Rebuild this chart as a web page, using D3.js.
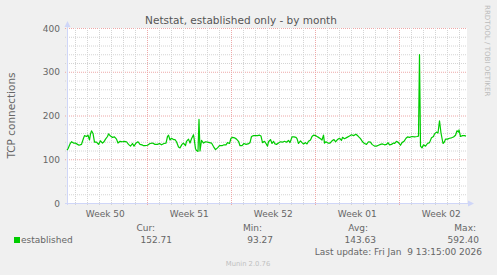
<!DOCTYPE html>
<html><head><meta charset="utf-8">
<script src="https://cdn.jsdelivr.net/npm/d3@7"></script>
<style>
html,body{margin:0;padding:0;background:#F0F0F0;}
svg{display:block;}
text{font-family:"DejaVu Sans",sans-serif;}
</style></head><body>
<svg id="c" width="497" height="275"></svg>
<script>
// ---- data ----
const title = "Netstat, established only - by month";
const yLabel = "TCP connections";
const seriesName = "established";
const yTicks = [0, 100, 200, 300, 400];
const weekLabelFormat = "Week %V";
// hours since start of graph window
const hours = [0,2,6,9,13,17,21,24,29,33,35,39,42,45,47,49,52,55,59,63,67,71,74,77,81,83,87,91,95,99,102,106,111,115,119,123,127,131,134,138,142,146,150,153,
156,161,166,171,176,181,185,189,194,198,201,203,206,209,213,216,219,223,226,230,233,237,239,243,246,249,253,255,257,259,262,264,266,269,273,277,281,285,289,293,297,301,305,
310,314,318,321,325,328,331,335,339,343,346,350,354,358,362,366,369,373,377,381,385,388,391,395,398,401,403,407,410,413,416,419,423,427,431,435,439,443,446,450,454,458,
460,463,467,470,473,477,480,483,487,490,493,497,500,503,507,510,513,515,518,522,526,530,534,537,541,545,549,551,555,560,565,569,573,578,582,587,591,595,599,603,607,610,
615,619,623,627,631,635,639,642,645,649,653,655,659,663,667,670,674,678,681,685,690,695,700,703,705,707,710,713,717,721,725,729,733,735,739,742,745,748,750,752,755,757,761,765,769,773,777,780,783,784,787,791,795,798];
const values = [121,124,135,140,137,137,134,132,134,148,154,152,155,144,158,165,159,139,139,134,142,137,140,146,152,158,153,150,151,146,137,141,140,141,140,134,130,136,130,137,140,134,133,131,
131,132,136,137,134,134,136,133,136,137,152,155,144,148,145,145,140,128,126,134,137,131,141,146,137,147,156,141,124,120,118,191,119,143,137,140,139,138,137,129,122,126,131,
131,133,133,138,136,148,150,149,146,141,131,131,136,134,135,138,152,154,154,154,155,153,138,141,136,130,140,145,136,141,135,134,137,140,139,141,139,143,138,151,151,150,
147,136,142,138,135,138,135,141,144,152,155,154,152,150,147,144,155,137,140,137,137,142,145,140,145,148,143,150,147,150,153,156,154,157,153,147,140,136,134,140,139,134,
130,130,132,134,135,133,134,138,133,134,137,136,141,138,132,138,141,148,151,150,152,151,152,153,339,130,126,133,130,136,138,149,152,158,162,160,188,160,148,136,140,146,146,148,149,151,155,165,162,167,152,154,154,153];
const legendHeaders = ["Cur:", "Min:", "Avg:", "Max:"];
const legendValues = ["152.71", "93.27", "143.63", "592.40"];
const lastUpdate = "Last update: Fri Jan  9 13:15:00 2026";
const watermark = "Munin 2.0.76";
const sideText = "RRDTOOL / TOBI OETIKER";
const windowEnd = Date.UTC(2026, 0, 9, 15, 20);
const windowSeconds = 2880000;

// ---- chart ----
const svg = d3.select("#c");
const W = 497, H = 275;
const L = 67, R = 467, T = 28, B = 203;
const start = new Date(windowEnd - windowSeconds * 1000);
const end = new Date(windowEnd);
const x = d3.scaleUtc().domain([start, end]).range([L, R]);
const y = d3.scaleLinear().domain([0, 400]).range([B, T]);

svg.append("rect").attr("width", W).attr("height", H).attr("fill", "#F0F0F0");
svg.append("rect").attr("x", L).attr("y", T).attr("width", R - L).attr("height", B - T).attr("fill", "#FFFFFF");

const minorCol = "#d4d4d4", majorCol = "#eda8a8";
// horizontal grid
const minorY = d3.range(0, 401, 20);
svg.append("g").selectAll("line").data(minorY).join("line")
  .attr("x1", L - 2).attr("x2", R).attr("y1", d => y(d) + 0.5).attr("y2", d => y(d) + 0.5)
  .attr("stroke", d => d % 100 === 0 ? majorCol : minorCol)
  .attr("stroke-width", 1).attr("stroke-dasharray", "1,1");
// vertical grid
const days = d3.utcDay.range(d3.utcDay.ceil(start), end);
svg.append("g").selectAll("line").data(days).join("line")
  .attr("x1", d => Math.round(x(d)) + 0.5).attr("x2", d => Math.round(x(d)) + 0.5)
  .attr("y1", T).attr("y2", B + 2)
  .attr("stroke", d => d.getUTCDay() === 0 ? majorCol : minorCol)
  .attr("stroke-width", 1).attr("stroke-dasharray", "1,1");

// axes
const axisCol = "#CFD6F8";
svg.append("line").attr("x1", L + 0.5).attr("x2", L + 0.5).attr("y1", B + 2).attr("y2", T - 4)
  .attr("stroke", axisCol);
svg.append("line").attr("x1", L - 2).attr("x2", R + 3).attr("y1", B + 0.5).attr("y2", B + 0.5)
  .attr("stroke", axisCol);
svg.append("path").attr("d", `M${L - 2.5},${T - 1} L${L + 0.5},${T - 7} L${L + 3.5},${T - 1} Z`).attr("fill", axisCol);
svg.append("path").attr("d", `M${R + 1},${B - 2.5} L${R + 7},${B + 0.5} L${R + 1},${B + 3.5} Z`).attr("fill", axisCol);

// y tick labels
svg.append("g").selectAll("text").data(yTicks).join("text")
  .attr("x", 60).attr("y", d => y(d) + 3.5).attr("text-anchor", "end")
  .attr("font-size", 9).attr("fill", "#666").text(d => d);

// x week labels
const weekFmt = d3.utcFormat(weekLabelFormat);
const weeks = d3.utcSunday.range(d3.utcSunday.floor(start), end);
svg.append("g").selectAll("text").data(weeks).join("text")
  .attr("x", d => x(new Date(+d + 3.5 * 86400000))).attr("y", 217)
  .attr("text-anchor", "middle").attr("font-size", 9).attr("fill", "#666")
  .text(d => weekFmt(new Date(+d + 3.5 * 86400000)));

// data line
const pts = hours.map((h, i) => ({ t: new Date(+start + h * 3600000), v: values[i] }));
const line = d3.line().x(d => x(d.t)).y(d => y(d.v));
svg.append("path").datum(pts).attr("d", line).attr("fill", "none")
  .attr("stroke", "#00CC00").attr("stroke-width", 1.2).attr("stroke-linejoin", "round");

// title
svg.append("text").attr("x", 241).attr("y", 24).attr("text-anchor", "middle")
  .attr("font-size", 10.5).attr("fill", "#555").text(title);
// y label
svg.append("text").attr("transform", `translate(15,${(T + B) / 2}) rotate(-90)`)
  .attr("text-anchor", "middle").attr("font-size", 10.5).attr("fill", "#666").text(yLabel);
// side text
svg.append("text").attr("transform", `translate(485,5) rotate(90)`)
  .attr("font-size", 7.1).attr("fill", "#bbbbbb").text(sideText);

// legend
svg.append("rect").attr("x", 14).attr("y", 237).attr("width", 6).attr("height", 6).attr("fill", "#00CC00");
svg.append("text").attr("x", 21).attr("y", 242.5).attr("font-size", 9).attr("fill", "#666").text(seriesName);
const headEnds = [155, 262, 368, 476];
const valEnds = [172, 273, 376, 479];
svg.append("g").selectAll("text").data(legendHeaders).join("text")
  .attr("x", (d, i) => headEnds[i]).attr("y", 231).attr("text-anchor", "end")
  .attr("font-size", 9).attr("fill", "#666").text(d => d);
svg.append("g").selectAll("text").data(legendValues).join("text")
  .attr("x", (d, i) => valEnds[i]).attr("y", 242.5).attr("text-anchor", "end")
  .attr("font-size", 9).attr("fill", "#666").text(d => d);
svg.append("text").attr("x", 482).attr("y", 254.5).attr("text-anchor", "end")
  .attr("font-size", 9).attr("fill", "#666").attr("xml:space", "preserve").style("white-space", "pre").text(lastUpdate);
svg.append("text").attr("x", 248).attr("y", 265.5).attr("text-anchor", "middle")
  .attr("font-size", 6.8).attr("fill", "#c0c0c0").text(watermark);
</script>
</body></html>
